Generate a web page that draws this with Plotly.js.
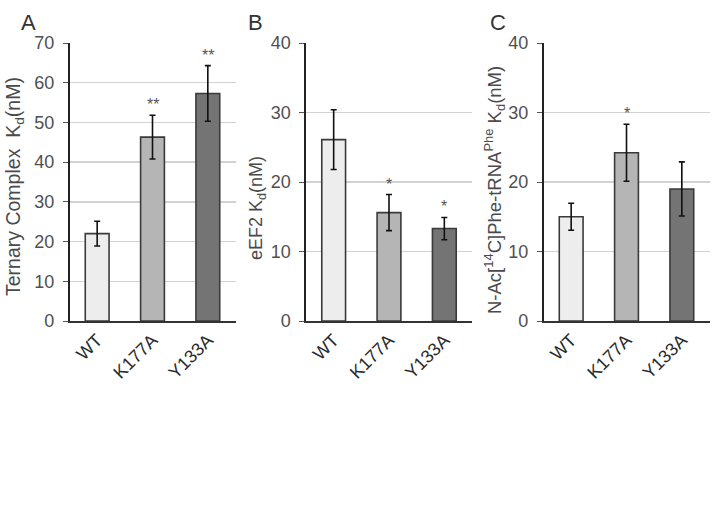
<!DOCTYPE html>
<html><head><meta charset="utf-8">
<script src="https://cdn.plot.ly/plotly-3.0.1.min.js"></script>
<style>html,body{margin:0;padding:0;background:#fff}#chart{width:720px;height:512px}</style>
</head><body><div id="chart"></div>
<script>
const categories = ['WT', 'K177A', 'Y133A'];
const ternaryKd = [22.0, 46.3, 57.3];
const ternaryErr = [3.1, 5.5, 7.0];
const ternarySig = ['', '**', '**'];
const eef2Kd = [26.1, 15.6, 13.3];
const eef2Err = [4.3, 2.6, 1.6];
const eef2Sig = ['', '*', '*'];
const acPheKd = [15.0, 24.2, 19.0];
const acPheErr = [1.95, 4.1, 3.9];
const acPheSig = ['', '*', ''];
const panelLetters = ['A', 'B', 'C'];
const yTitles = ['Ternary Complex  K<sub>d</sub>(nM)', 'eEF2 K<sub>d</sub>(nM)', 'N-Ac[<sup>14</sup>C]Phe-tRNA<sup>Phe</sup> K<sub>d</sub>(nM)'];
const yMax = [70, 40, 40];
const yDtick = [10, 10, 10];

const barColors = ['#ededed', '#b5b5b5', '#747474'];
const W = 720, H = 512;
const px = v => v / W, py = v => 1 - v / H;
const xDomains = [[69.5, 235.5], [306, 472], [543.5, 709.5]];
const yTop = 43, yBot = 321;
const titleX = [14, 257, 494];
const titleY = [187, 208, 190];
const titleSize = [19.5, 18, 18.5];
const letterX = [28, 255, 498];

const series = [[ternaryKd, ternaryErr, ternarySig], [eef2Kd, eef2Err, eef2Sig], [acPheKd, acPheErr, acPheSig]];
const data = [];
const annotations = [];
const layout = {
  width: W, height: H, margin: {l: 0, r: 0, t: 0, b: 0},
  paper_bgcolor: '#fff', plot_bgcolor: '#fff', showlegend: false,
  font: {family: 'Liberation Sans, Arial, sans-serif', color: '#404040'},
  annotations: annotations
};
series.forEach((s, i) => {
  const n = i === 0 ? '' : String(i + 1);
  data.push({
    type: 'bar', x: categories, y: s[0], xaxis: 'x' + n, yaxis: 'y' + n,
    width: 0.43,
    marker: {color: barColors, line: {color: '#3a3a3a', width: 1.6}},
    error_y: {type: 'data', array: s[1], visible: true, color: '#111', thickness: 1.6, width: 3}
  });
  layout['xaxis' + n] = {
    domain: [px(xDomains[i][0]), px(xDomains[i][1])], anchor: 'y' + n,
    type: 'category', range: [-0.5, 2.5], showline: true, linecolor: '#333', linewidth: 1.6,
    ticks: '', tickangle: -45, tickfont: {size: 18, color: '#2a2a2a'}, showgrid: false, zeroline: false, fixedrange: true
  };
  layout['yaxis' + n] = {
    domain: [py(yBot), py(yTop)], anchor: 'x' + n,
    range: [0, yMax[i]], dtick: yDtick[i], tick0: 0,
    showline: true, linecolor: '#222', linewidth: 1.6,
    ticks: 'outside', ticklen: 5, tickcolor: '#555', tickwidth: 1,
    tickfont: {size: 18, color: '#505050'}, ticklabelstandoff: 5,
    showgrid: true, gridcolor: '#d2d2d2', gridwidth: 1.5, zeroline: false, fixedrange: true
  };
  annotations.push({
    xref: 'paper', yref: 'paper', x: px(titleX[i]), y: py(titleY[i]), text: yTitles[i],
    textangle: -90, showarrow: false, font: {size: titleSize[i], color: '#4a4a4a'}, xanchor: 'center', yanchor: 'middle'
  });
  annotations.push({
    xref: 'paper', yref: 'paper', x: px(letterX[i]), y: py(22), text: panelLetters[i],
    showarrow: false, font: {size: 22, color: '#333'}, xanchor: 'center', yanchor: 'middle'
  });
  s[2].forEach((sig, j) => {
    if (!sig) return;
    annotations.push({
      xref: 'x' + n, yref: 'y' + n, x: categories[j], y: s[0][j] + s[1][j], text: sig,
      showarrow: false, yanchor: 'bottom', yshift: 0, font: {size: 16, color: '#555'}
    });
  });
});
Plotly.newPlot('chart', data, layout, {displayModeBar: false, staticPlot: true});
</script></body></html>
